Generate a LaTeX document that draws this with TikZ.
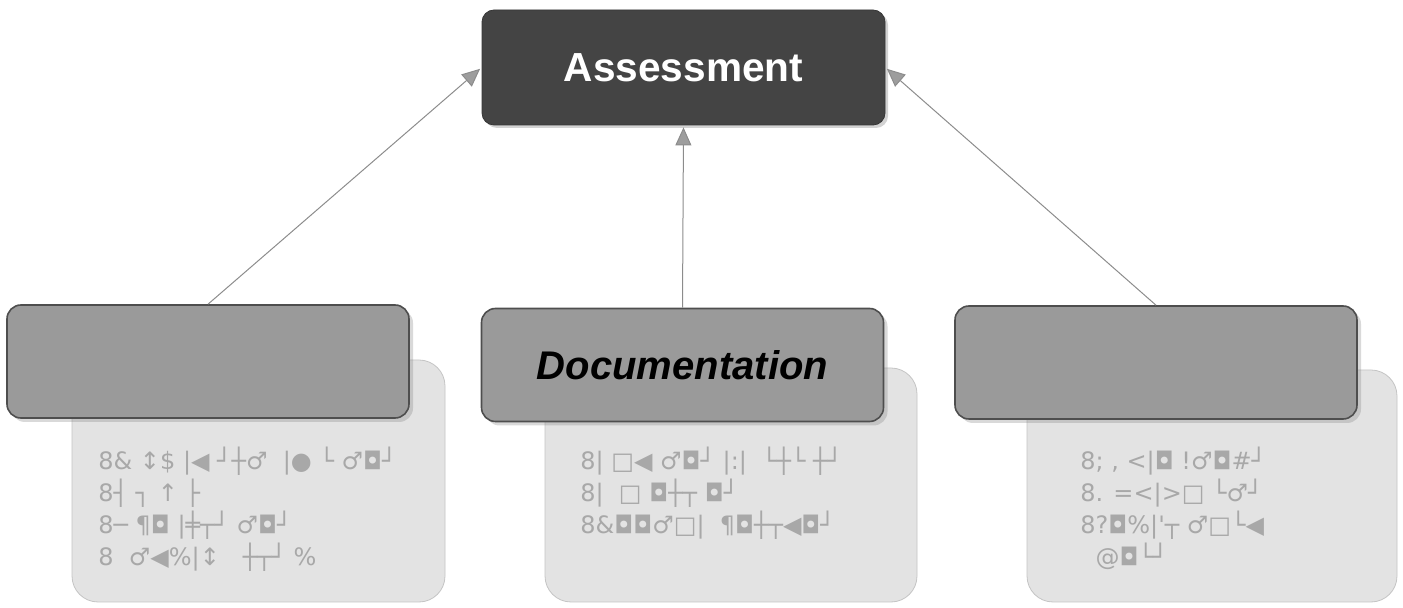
\documentclass[tikz,border=0pt]{standalone}
\usepackage{fontspec}
\setmainfont{Liberation Sans}
\newfontfamily\glyphs{DejaVu Sans}
\usetikzlibrary{arrows.meta,shadows}
\definecolor{headgray}{HTML}{444444}
\definecolor{boxgray}{HTML}{9A9A9A}
\definecolor{edgegray}{HTML}{4E4E4E}
\definecolor{notegray}{HTML}{E3E3E3}
\definecolor{noteedge}{HTML}{C4C4C4}
\definecolor{notetext}{HTML}{A8A8A8}
\definecolor{linkgray}{HTML}{8C8C8C}
\tikzset{
  headbox/.style={draw=headgray!80!black,fill=headgray,rounded corners=6pt,
    minimum width=201.5pt,minimum height=57.5pt,text=white,
    font=\fontsize{20.3}{24}\selectfont\bfseries,
    drop shadow={shadow xshift=1.5pt,shadow yshift=-1.5pt,opacity=.35}},
  namebox/.style={draw=edgegray,line width=.8pt,fill=boxgray,rounded corners=7pt,
    minimum width=201pt,minimum height=56.5pt,
    font=\fontsize{20}{24}\selectfont\bfseries\itshape,
    drop shadow={shadow xshift=2pt,shadow yshift=-2pt,opacity=.3}},
  notebox/.style={draw=noteedge,fill=notegray,rounded corners=13pt},
  notetxt/.style={anchor=north west,align=left,text=notetext,
    font=\glyphs\fontsize{12}{16}\selectfont,inner sep=0pt},
  link/.style={draw=linkgray,line width=.5pt,
    -{Triangle[length=9pt,width=8pt,fill=linkgray!85]},shorten >=1pt}
}
\begin{document}
\begin{tikzpicture}[x=0.5pt,y=-0.5pt]
\useasboundingbox (0,0) rectangle (1403,608);
% notes behind the three names
\node[notebox,minimum width=186.5pt,minimum height=121pt] (ln) at (258.5,481) {};
\node[notebox,minimum width=186pt,minimum height=117pt] (mn) at (731,485) {};
\node[notebox,minimum width=185pt,minimum height=116pt] (rn) at (1212,486) {};
\node[notetxt] (lt) at (98,447) {8\& ↕\$ |◀ ┘┼♂ \ |● └ ♂◘┘\\8┤ ┐ ↑ ├\\8─ ¶◘ |╪┬┘ ♂◘┘\\8 \ ♂◀\%|↕ \ \ ┼┬┘ \%};
\node[notetxt] (mt) at (580,447) {8| □◀ ♂◘┘ |:| \ └┼└ ┼┘\\8| \ □ ◘┼┬ ◘┘\\8\&◘◘♂□| \ ¶◘┼┬◀◘┘};
\node[notetxt] (rt) at (1080,447) {8; , <|◘ !♂◘\#┘\\8. =<|>□ └♂┘\\8?◘\%|'┬ ♂□└◀\\\ \ @◘└┘};
% names
\node[namebox] (l) at (208,361.5) {};
\node[namebox] (m) at (682.5,365) {Documentation};
\node[namebox] (r) at (1156,362.5) {};
\node[headbox] (a) at (683.5,67.5) {Assessment};
% links
\draw[link] (l.north) -- (a.west);
\draw[link] (m.north) -- (a.south);
\draw[link] (r.north) -- (a.east);
\end{tikzpicture}
\end{document}
